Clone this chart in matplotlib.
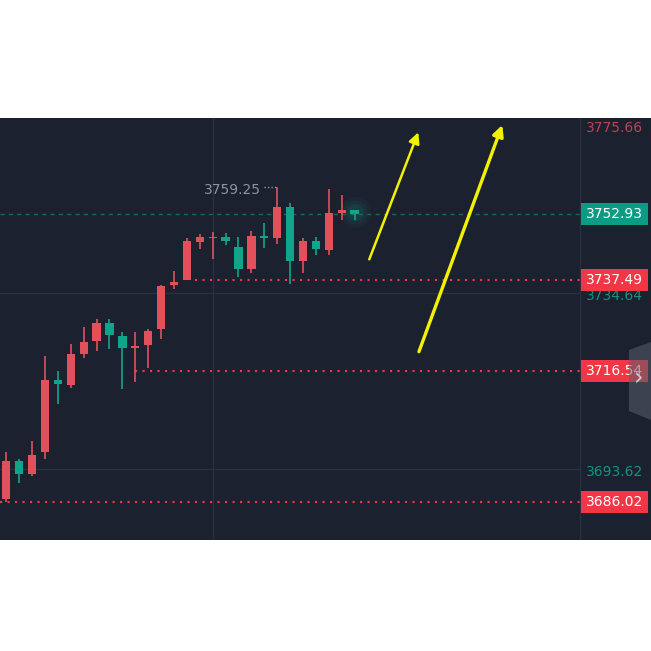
import numpy as np
import matplotlib.pyplot as plt
from matplotlib.patches import Rectangle, Polygon
import matplotlib.transforms as mtransforms

# OHLC (one candle per row)
otwarcie = [3686.64, 3695.54, 3692.45, 3697.70, 3714.43, 3713.13, 3720.40, 3723.49, 3727.54, 3724.66,
            3721.87, 3722.49, 3726.21, 3736.36, 3737.49, 3746.42, 3747.28, 3747.59, 3745.26, 3740.08,
            3747.89, 3747.35, 3754.63, 3741.94, 3746.73, 3744.50, 3753.23, 3753.79]
maks = [3697.70, 3695.94, 3700.19, 3720.01, 3716.52, 3722.65, 3726.75, 3728.53, 3728.53, 3725.51,
        3725.51, 3726.28, 3736.42, 3739.76, 3747.28, 3748.28, 3748.82, 3748.59, 3747.66, 3749.05,
        3750.91, 3759.25, 3755.42, 3747.28, 3747.66, 3758.74, 3757.27, 3753.79]
mini = [3686.02, 3690.43, 3692.13, 3695.94, 3708.72, 3712.50, 3719.47, 3721.17, 3721.50, 3712.20,
        3713.97, 3717.08, 3723.89, 3735.50, 3737.49, 3744.73, 3742.40, 3745.66, 3738.36, 3739.29,
        3745.10, 3745.96, 3736.60, 3739.29, 3743.33, 3743.33, 3751.47, 3751.54]
zamkniecie = [3695.54, 3692.52, 3697.00, 3714.43, 3713.43, 3720.33, 3723.19, 3727.54, 3724.75, 3721.87,
              3722.33, 3725.82, 3736.27, 3737.20, 3746.73, 3747.59, 3747.51, 3746.73, 3740.08, 3747.89,
              3747.28, 3754.63, 3742.08, 3746.73, 3744.73, 3753.09, 3753.93, 3752.93]

cena_teraz = 3752.93
poziomy = [3737.49, 3716.54, 3686.02]          # red dotted levels
poziomy_start = [14.6, 10.0, -0.49]            # candle index where each level starts
siatka_ceny = [3775.66, 3734.64, 3693.62]
siatka_kolory = ['#b9444f', '#0f9480', '#0f9480']
siatka_x = [16]
max_etykieta = 3759.25
max_indeks = 21

# yellow arrows: (tail index, tail price, tip index, tip price, width)
strzalki = [(28.14, 3742.40, 31.94, 3771.91, 1.8),
            (31.99, 3720.94, 38.45, 3773.61, 2.4)]

TLO = '#1c2130'
CZERWONY = '#e2505c'
ZIELONY = '#10a58a'
CZERWONY_BOX = '#f23645'
SIATKA = '#2a3040'

fig = plt.figure(figsize=(6.51, 6.51), dpi=100, facecolor='white')
ax = fig.add_axes([0, 111 / 651, 1, 422 / 651])
ax.set_facecolor(TLO)
ax.set_xlim(-0.488, 49.98)
ax.set_ylim(3677.19, 3775.23)
for s in ax.spines.values():
    s.set_visible(False)
ax.set_xticks([])
ax.set_yticks([])

granica = 580 / 651   # price scale separator in axes fraction
trans = mtransforms.blended_transform_factory(ax.transAxes, ax.transData)

# grid
for p in siatka_ceny:
    ax.axhline(p, xmin=0, xmax=granica, color=SIATKA, lw=1, zorder=1)
for x in siatka_x:
    ax.axvline(x, color=SIATKA, lw=1, zorder=1)
ax.plot([granica, granica], [0, 1], transform=ax.transAxes, color=SIATKA, lw=1, zorder=1)

# candles
n = len(otwarcie)
idx = np.arange(n)
for i in range(n):
    o, h, l, c = otwarcie[i], maks[i], mini[i], zamkniecie[i]
    kol = CZERWONY if c >= o else ZIELONY
    ax.vlines(i, l, h, color=kol, lw=1.2, zorder=3)
    dol = min(o, c)
    wys = max(abs(c - o), 0.35)
    ax.bar(i, wys, bottom=dol, width=0.64, color=kol, zorder=4)

# glow on the live candle
for r, a in [(500, 0.05), (300, 0.08), (150, 0.12)]:
    ax.scatter([idx[-1]], [zamkniecie[-1] + 0.4], s=r, color=ZIELONY, alpha=a, lw=0, zorder=2)

# current price line
ax.plot([ax.get_xlim()[0], 44.47], [cena_teraz, cena_teraz], color='#17695e', lw=1,
        linestyle=(0, (3, 3)), zorder=2)

# red dotted levels
for p, st in zip(poziomy, poziomy_start):
    ax.plot([st, 44.47], [p, p], color=CZERWONY_BOX, lw=1.5, linestyle=(0, (1, 2.6)),
            dash_capstyle='butt', zorder=2)

# high label
ax.annotate(f'{max_etykieta:.2f}', xy=(max_indeks, max_etykieta), xytext=(-16, -3),
            textcoords='offset pixels', ha='right', va='center', color='#8f939c', fontsize=10, zorder=5)
ax.plot([max_indeks - 1.0, max_indeks], [max_etykieta, max_etykieta], color='#8f939c', lw=1,
        linestyle=(0, (1, 1.5)), zorder=5)

# arrows
for x0, y0, x1, y1, w in strzalki:
    ax.annotate('', xy=(x1, y1), xytext=(x0, y0),
                arrowprops=dict(arrowstyle='-|>', color='#f2f200', lw=w, mutation_scale=16,
                                shrinkA=0, shrinkB=0), zorder=6)

# price scale labels
srodek = 614.5 / 651
for p, k in zip(siatka_ceny, siatka_kolory):
    if p == siatka_ceny[0]:
        ax.annotate(f'{p:.2f}', xy=(srodek, 1), xycoords='axes fraction', xytext=(0, -10),
                    textcoords='offset pixels', ha='center', va='center', color=k, fontsize=10, zorder=7)
    else:
        ax.annotate(f'{p:.2f}', xy=(srodek, p), xycoords=trans, xytext=(0, -3),
                    textcoords='offset pixels', ha='center', va='center', color=k, fontsize=10, zorder=7)

box_h = 5.11
boxy = [(cena_teraz, '#0c9b84')] + [(p, CZERWONY_BOX) for p in poziomy]
for p, k in boxy:
    ax.add_patch(Rectangle((581 / 651, p - box_h / 2), 67 / 651, box_h, transform=trans,
                           facecolor=k, edgecolor='none', zorder=8))
    ax.text(srodek, p, f'{p:.2f}', transform=trans, ha='center', va='center', color='white',
            fontsize=10, zorder=9)

# side tab with chevron
tab = Polygon([[629 / 651, 1 - 350 / 651], [1, 1 - 342 / 651], [1, 1 - 420 / 651], [629 / 651, 1 - 411 / 651]],
              closed=True, transform=fig.transFigure, facecolor='#5a5f6c', alpha=0.55,
              edgecolor='none', zorder=10)
fig.patches.append(tab)
fig.text(638 / 651, 1 - 379 / 651, '›', ha='center', va='center', color='#c8ccd4', fontsize=17,
         zorder=11)

fig.savefig('out.png', dpi=100, facecolor='white')
